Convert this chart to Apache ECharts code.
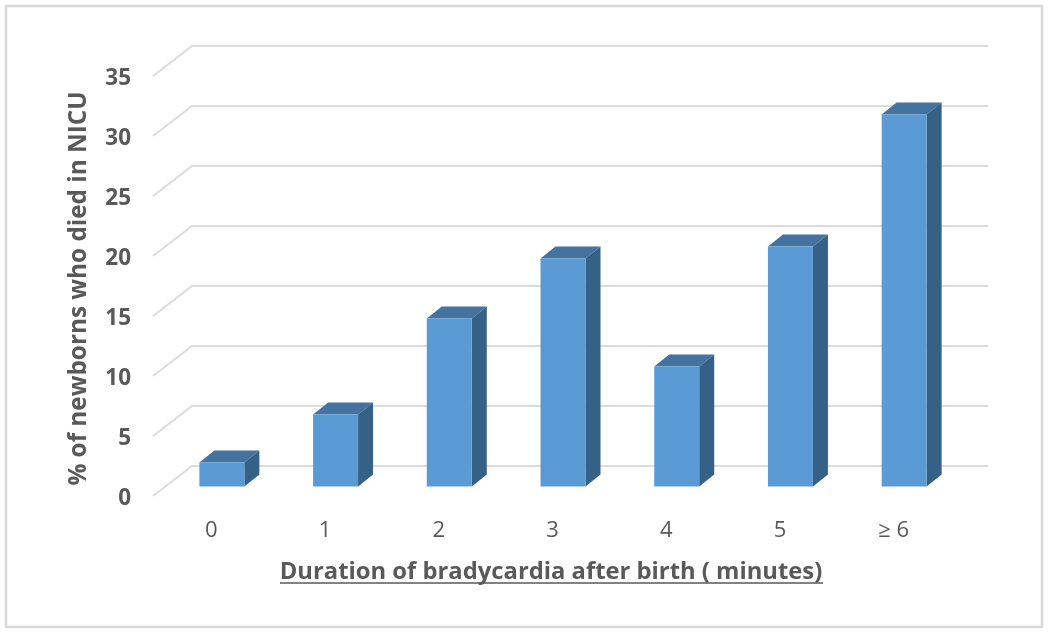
<!DOCTYPE html>
<html>
<head>
<meta charset="utf-8">
<style>html,body{margin:0;padding:0;background:#fff}#c{width:1050px;height:635px}</style>
<script src="https://cdn.jsdelivr.net/npm/echarts@6/dist/echarts.min.js"></script>
</head>
<body>
<div id="c"></div>
<script>
const categories = ['0', '1', '2', '3', '4', '5', '≥ 6'];
const values = [2, 6, 14, 19, 10, 20, 31];
const tickValues = [0, 5, 10, 15, 20, 25, 30, 35];
const yTitle = '% of newborns who died in NICU';
const xTitle = 'Duration of bradycardia after birth ( minutes)';

const FONT = '"Open Sans", Lato, sans-serif';
const TEXT = '#595959';
const chart = echarts.init(document.getElementById('c'), null, {renderer: 'canvas'});

function renderGrid(params, api) {
  const y = api.coord([0, api.value(0)])[1];
  const cs = params.coordSys;
  return {
    type: 'polyline',
    silent: true,
    shape: {points: [[cs.x - 12, y + 9.5], [cs.x + 27, y - 20.5], [cs.x + 823, y - 20.5]]},
    style: {fill: null, stroke: '#dcdcdc', lineWidth: 2}
  };
}

function renderBar(params, api) {
  const top = api.coord([api.value(0), api.value(1)]);
  const base = api.coord([api.value(0), 0]);
  const w = 45, dx = 15, dy = 12;
  const l = top[0] - w / 2, r = l + w;
  return {
    type: 'group',
    children: [
      {type: 'polygon', shape: {points: [[l, top[1]], [r, top[1]], [r + dx, top[1] - dy], [l + dx, top[1] - dy]]},
       style: {fill: '#44739f'}},
      {type: 'polygon', shape: {points: [[r, top[1]], [r + dx, top[1] - dy], [r + dx, base[1] - dy], [r, base[1]]]},
       style: {fill: '#366186'}},
      {type: 'rect', shape: {x: l, y: top[1], width: w, height: base[1] - top[1]},
       style: {fill: '#5b9bd5'}}
    ]
  };
}

chart.setOption({
  animation: false,
  backgroundColor: '#fff',
  grid: {left: 165, top: 66.5, width: 796, height: 420},
  xAxis: {
    type: 'category',
    data: categories,
    axisLine: {show: false},
    axisTick: {show: false},
    axisLabel: {color: TEXT, fontFamily: FONT, fontSize: 22, margin: 33, padding: [0, 21, 0, 0]},
    name: xTitle,
    nameLocation: 'middle',
    nameGap: 74,
    nameTextStyle: {color: TEXT, fontFamily: FONT, fontSize: 23.8, fontWeight: 'bold', padding: [0, 24, 0, 0]}
  },
  yAxis: {
    type: 'value',
    min: 0,
    max: 35,
    interval: 5,
    axisLine: {show: false},
    axisTick: {show: false},
    splitLine: {show: false},
    axisLabel: {color: TEXT, fontFamily: FONT, fontSize: 22.5, fontWeight: 'bold', margin: 34, verticalAlign: 'top', lineHeight: 25},
    name: yTitle,
    nameLocation: 'middle',
    nameGap: 74,
    nameRotate: 90,
    nameTextStyle: {color: TEXT, fontFamily: FONT, fontSize: 24.3, fontWeight: 'bold', padding: [0, 24, 0, 0]}
  },
  graphic: [
    {type: 'rect', z: -1, silent: true, shape: {x: 6, y: 6, width: 1036, height: 621},
     style: {fill: '#fff', stroke: '#d9d9d9', lineWidth: 2.5}},
    {type: 'line', silent: true, shape: {x1: 280, y1: 583, x2: 823, y2: 583},
     style: {stroke: TEXT, lineWidth: 1.5}}
  ],
  series: [
    {type: 'custom', name: 'gridlines', z: 1, clip: false, coordinateSystem: 'cartesian2d',
     encode: {y: 0}, data: tickValues.map(v => [v]), renderItem: renderGrid, silent: true},
    {type: 'custom', name: '% died', z: 2, clip: false, coordinateSystem: 'cartesian2d',
     encode: {x: 0, y: 1}, data: values.map((v, i) => [i, v]), renderItem: renderBar, silent: true}
  ]
});
</script>
</body>
</html>
